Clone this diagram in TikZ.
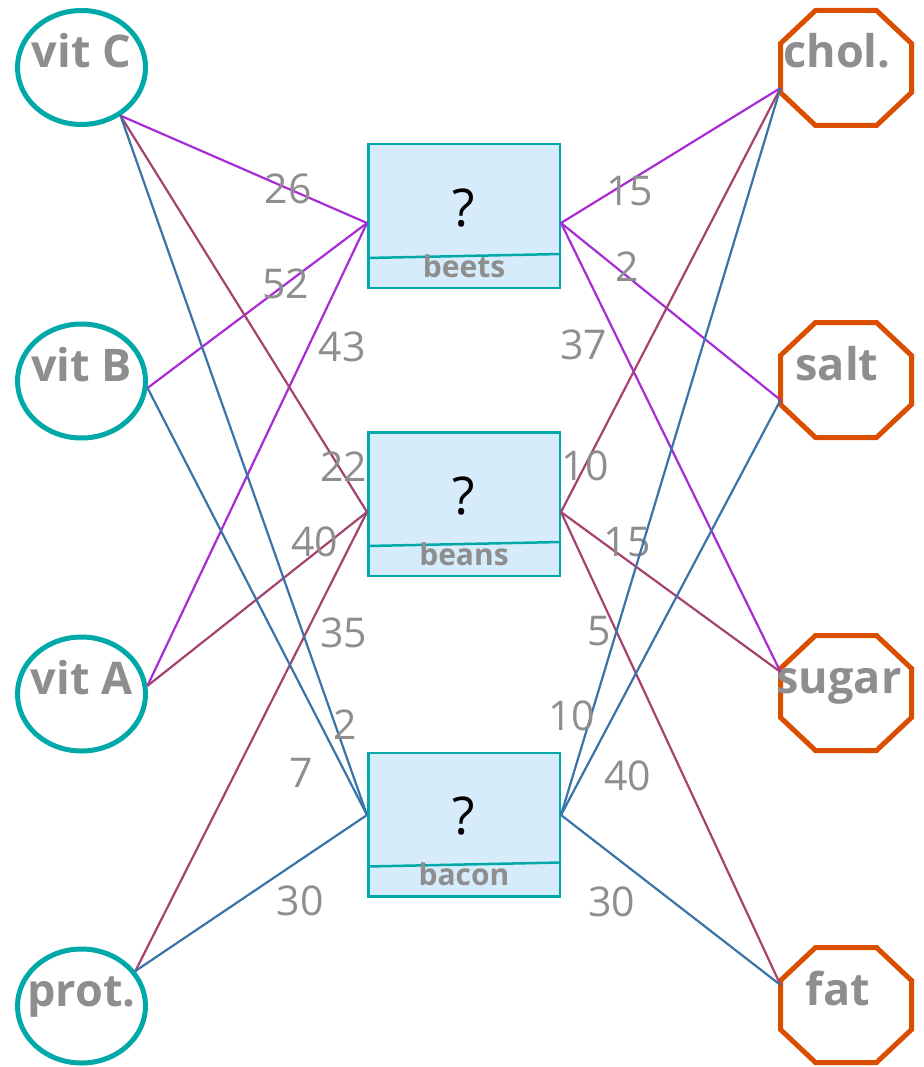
\documentclass[tikz,border=0pt]{standalone}
\usepackage{fontspec}
\setmainfont{Open Sans}
\usepackage{tikz}
\usetikzlibrary{shapes.geometric}

\definecolor{nutrteal}{RGB}{0,168,168}
\definecolor{limorange}{RGB}{218,78,0}
\definecolor{foodfill}{RGB}{214,236,251}
\definecolor{labelgrey}{RGB}{142,142,142}
\definecolor{beetspurple}{RGB}{168,44,214}
\definecolor{beansred}{RGB}{165,67,112}
\definecolor{baconblue}{RGB}{58,115,168}

\begin{document}
\begin{tikzpicture}[
        x=1pt, y=-1pt,
        nutrient/.style={
            ellipse, draw=nutrteal, line width=5pt,
            minimum width=128pt, minimum height=114pt, inner sep=0pt
        },
        limit/.style={
            rectangle, minimum width=131pt, minimum height=115pt,
            inner sep=0pt, outer sep=0pt
        },
        octline/.style={draw=limorange, line width=5pt},
        food/.style={
            rectangle, draw=nutrteal, fill=foodfill, line width=2.5pt,
            minimum width=191.5pt, minimum height=143.5pt
        },
        tag/.style={text=labelgrey, font=\fontsize{45}{45}\selectfont\bfseries, anchor=base, inner sep=0pt},
        qmark/.style={font=\fontsize{52}{52}\selectfont, inner sep=0pt},
        fname/.style={text=labelgrey, font=\fontsize{30}{30}\selectfont\bfseries, inner sep=0pt},
        wt/.style={text=labelgrey, font=\fontsize{41}{41}\selectfont, inner sep=0pt},
        beetsedge/.style={draw=beetspurple, line width=2.2pt},
        beansedge/.style={draw=beansred, line width=2.2pt},
        baconedge/.style={draw=baconblue, line width=2.2pt},
        ]
        \useasboundingbox (0,0) rectangle (923,1067);

        % nutrients
        \node[nutrient] (vitC) at (81.5,67.5) {};
        \node[nutrient] (vitB) at (81.5,381) {};
        \node[nutrient] (vitA) at (81.5,694) {};
        \node[nutrient] (prot) at (81.5,1006) {};
        \node[tag] (vitCt) at (vitC.center) {vit C};
        \node[tag] (vitBt) at (vitB.center) {vit B};
        \node[tag] (vitAt) at (vitA.center) {vit A};
        \node[tag] (prott) at (prot.center) {prot.};

        % limits
        \node[limit] (chol) at (846,68) {};
        \node[limit] (salt) at (846,380) {};
        \node[limit] (sugar) at (846,693) {};
        \node[limit] (fat) at (846,1005) {};
        \foreach \n in {chol,salt,sugar,fat}
            \draw[octline] ([xshift=35]\n.north west) -- ([xshift=-35]\n.north east)
                -- ([yshift=-33]\n.north east) -- ([yshift=33]\n.south east)
                -- ([xshift=-35]\n.south east) -- ([xshift=35]\n.south west)
                -- ([yshift=33]\n.south west) -- ([yshift=-33]\n.north west) -- cycle;
        \node[tag] (cholt) at ([xshift=-9]chol.center) {chol.};
        \node[tag] (saltt) at ([xshift=-9]salt.center) {salt};
        \node[tag] (sugart) at ([xshift=-7]sugar.center) {sugar};
        \node[tag] (fatt) at ([xshift=-8]fat.center) {fat};

        % foods
        \node[food] (beets) at (464,216) {};
        \node[food] (beans) at (464,504) {};
        \node[food] (bacon) at (464,824.5) {};
        \foreach \f in {beets,beans,bacon} {
            \draw[draw=nutrteal, line width=2.5pt] ([yshift=-115]\f.north west) -- ([yshift=-111]\f.north east);
            \node[qmark] (\f q) at ([yshift=-65]\f.north) {?};
            \node[fname] (\f t) at ([yshift=-123]\f.north) {\f};
        }

        \coordinate (beetsW) at ([yshift=-7]beets.west);
        \coordinate (beetsE) at ([yshift=-7]beets.east);
        \coordinate (beansW) at ([yshift=-8]beans.west);
        \coordinate (beansE) at ([yshift=-8]beans.east);
        \coordinate (baconW) at ([yshift=9.5]bacon.west);
        \coordinate (baconE) at ([yshift=9.5]bacon.east);
        \coordinate (cholW) at ([yshift=-20]chol.west);
        \coordinate (saltW) at ([yshift=-20]salt.west);
        \coordinate (sugarW) at ([yshift=21]sugar.west);
        \coordinate (fatW) at ([yshift=20]fat.west);

        % beets
        \draw[beetsedge] (vitC.-51) -- (beetsW) node[wt, pos=.68] {26};
        \draw[beetsedge] (vitB.-6) -- (beetsW) node[wt, pos=.63] {52};
        \draw[beetsedge] (vitA.7) -- (beetsW) node[wt, pos=.76, xshift=28, yshift=-13] {43};
        \draw[beetsedge] (beetsE) -- (cholW) node[wt, pos=.29, xshift=5, yshift=-7] {15};
        \draw[beetsedge] (beetsE) -- (saltW) node[wt, pos=.28, xshift=5, yshift=6] {2};
        \draw[beetsedge] (beetsE) -- (sugarW) node[wt, pos=.24, xshift=-30, yshift=-14] {37};

        % beans
        \draw[beansedge] (vitC.-51) -- (beansW) node[wt, pos=.89, xshift=4, yshift=2] {22};
        \draw[beansedge] (vitA.7) -- (beansW) node[wt, pos=.79, xshift=-6, yshift=7] {40};
        \draw[beansedge] (prot.33) -- (beansW) node[wt, pos=.77, xshift=30, yshift=-15] {35};
        \draw[beansedge] (beansE) -- (cholW) node[wt, pos=.11] {10};
        \draw[beansedge] (beansE) -- (sugarW) node[wt, pos=.26, xshift=9, yshift=12] {15};
        \draw[beansedge] (beansE) -- (fatW) node[wt, pos=.24, xshift=-14, yshift=-6] {5};

        % bacon
        \draw[baconedge] (vitC.-51) -- (baconW) node[wt, pos=.875, xshift=9, yshift=3] {2};
        \draw[baconedge] (vitB.-6) -- (baconW) node[wt, pos=.86, xshift=-35, yshift=-18] {7};
        \draw[baconedge] (prot.33) -- (baconW) node[wt, pos=.63, xshift=19, yshift=-28] {30};
        \draw[baconedge] (baconE) -- (cholW) node[wt, pos=.13, xshift=-18, yshift=5] {10};
        \draw[baconedge] (baconE) -- (saltW) node[wt, pos=.14, xshift=36, yshift=-19] {40};
        \draw[baconedge] (baconE) -- (fatW) node[wt, pos=.335, xshift=-23, yshift=-30] {30};
    \end{tikzpicture}
\end{document}
